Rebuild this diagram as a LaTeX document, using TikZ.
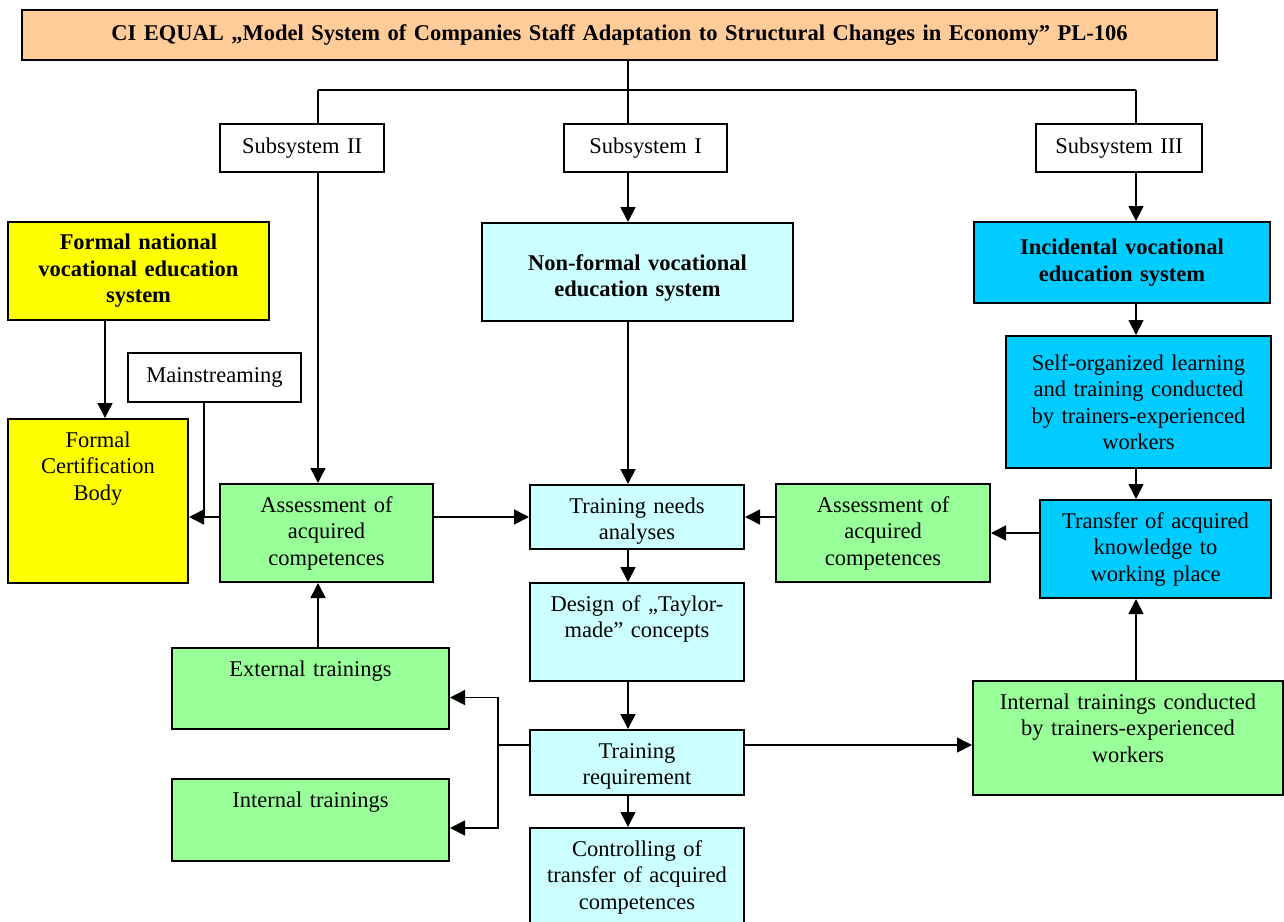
\documentclass[tikz,border=0pt]{standalone}
\usepackage{fontspec}
\setmainfont{Liberation Serif}
\usetikzlibrary{arrows.meta}
\definecolor{peach}{HTML}{FFCC99}
\definecolor{lemon}{HTML}{FFFF00}
\definecolor{ice}{HTML}{CCFFFF}
\definecolor{mint}{HTML}{99FF99}
\definecolor{sky}{HTML}{00CCFF}
\newcommand\bodysize{\fontsize{22.5}{26.5}\selectfont}
\tikzset{box/.style={draw,line width=2pt,align=center,inner sep=0pt},
         topbox/.style={box,anchor=north,text height=28pt,text depth=#1},
         strong/.style={font=\bodysize\bfseries},
         link/.style={line width=1.6pt},
        }

\begin{document}
\begin{tikzpicture}[x=1pt,y=-1pt,>={Triangle[length=15pt,width=15pt]},font=\bodysize]
        \useasboundingbox (0,0) rectangle (1284,921);

        \node[box,strong,fill=peach,text width=1195pt,minimum height=50pt](title)at(619.5,35){CI EQUAL „Model System of Companies Staff Adaptation to Structural Changes in Economy” PL-106};
        \node[box,text width=164pt,minimum height=48pt](sub2)at(302,148){Subsystem II};
        \node[box,text width=163pt,minimum height=48pt](sub1)at(645.5,148){Subsystem I};
        \node[box,text width=166pt,minimum height=48pt](sub3)at(1119,148){Subsystem III};

        \node[box,strong,fill=lemon,text width=261pt,minimum height=98pt](formal)at(138.5,271){Formal national\\vocational education\\system};
        \node[topbox=136pt,fill=lemon,text width=180pt](certif)at(98,418){Formal\\Certification\\Body};
        \node[box,text width=173pt,minimum height=49pt](mainstr)at(214.5,377.5){Mainstreaming};
        \node[box,fill=mint,text width=213pt,minimum height=98pt](assessL)at(326.5,533){Assessment of\\acquired\\competences};
        \node[topbox=53pt,fill=mint,text width=277pt](extern)at(310.5,647){External trainings};
        \node[topbox=54pt,fill=mint,text width=277pt](intern)at(310.5,778){Internal trainings};

        \node[topbox=51pt,text height=47pt,strong,fill=ice,text width=311pt](nonformal)at(637.5,222){Non-formal vocational\\education system};
        \node[topbox=36pt,fill=ice,text width=214pt](needs)at(637,484){Training needs\\analyses};
        \node[topbox=70pt,fill=ice,text width=214pt](design)at(637,582){Design of „Taylor-\\made” concepts};
        \node[topbox=37pt,fill=ice,text width=214pt](req)at(637,729){Training\\requirement};
        \node[topbox=75pt,fill=ice,text width=214pt](control)at(637,827){Controlling of\\transfer of acquired\\competences};

        \node[box,strong,fill=sky,text width=296pt,minimum height=81pt](incid)at(1122,262.5){Incidental vocational\\education system};
        \node[box,fill=sky,text width=265pt,minimum height=132pt](selforg)at(1138.5,402){Self-organized learning\\and training conducted\\by trainers-experienced\\workers};
        \node[box,fill=sky,text width=231pt,minimum height=98pt](transfer)at(1155.5,549){Transfer of acquired\\knowledge to\\working place};
        \node[box,fill=mint,text width=214pt,minimum height=98pt](assessR)at(883,533){Assessment of\\acquired\\competences};
        \node[topbox=86pt,fill=mint,text width=310pt](conducted)at(1128,680){Internal trainings conducted\\by trainers-experienced\\workers};

        \coordinate(colII)at(318,90);
        \coordinate(colI)at(628,90);
        \coordinate(colIII)at(1136,90);
        \coordinate(colF)at(105,0);
        \coordinate(colM)at(204,0);
        \coordinate(rowA)at(0,517);
        \coordinate(split)at(498,745);

        \draw[link](title.south -| colI)--(colI);
        \draw[link](colII)--(colIII);
        \draw[link](colII)--(colII |- sub2.north);
        \draw[link](colI)--(colI |- sub1.north);
        \draw[link](colIII)--(colIII |- sub3.north);
        \draw[link,->](colII |- sub2.south)--(colII |- assessL.north);
        \draw[link,->](colI |- sub1.south)--(colI |- nonformal.north);
        \draw[link,->](colIII |- sub3.south)--(colIII |- incid.north);

        \draw[link,->](colF |- formal.south)--(colF |- certif.north);
        \draw[link](colM |- mainstr.south)--(colM |- rowA);
        \draw[link,->](assessL.west |- rowA)--(certif.east |- rowA);
        \draw[link,->](assessL.east |- rowA)--(needs.west |- rowA);
        \draw[link,->](assessR.west |- rowA)--(needs.east |- rowA);
        \draw[link,->](colII |- extern.north)--(colII |- assessL.south);

        \draw[link,->](colI |- nonformal.south)--(colI |- needs.north);
        \draw[link,->](colI |- needs.south)--(colI |- design.north);
        \draw[link,->](colI |- design.south)--(colI |- req.north);
        \draw[link,->](colI |- req.south)--(colI |- control.north);
        \draw[link](req.west |- split)--(split);
        \draw[link,->](split) |- ([yshift=-9pt]extern.east);
        \draw[link,->](split) |- ([yshift=-8pt]intern.east);
        \draw[link,->](req.east |- split)--(conducted.west |- split);

        \draw[link,->](colIII |- incid.south)--(colIII |- selforg.north);
        \draw[link,->](colIII |- selforg.south)--(colIII |- transfer.north);
        \draw[link,->](transfer.west |- assessR.east)--(assessR.east);
        \draw[link,->](colIII |- conducted.north)--(colIII |- transfer.south);
    \end{tikzpicture}
\end{document}
